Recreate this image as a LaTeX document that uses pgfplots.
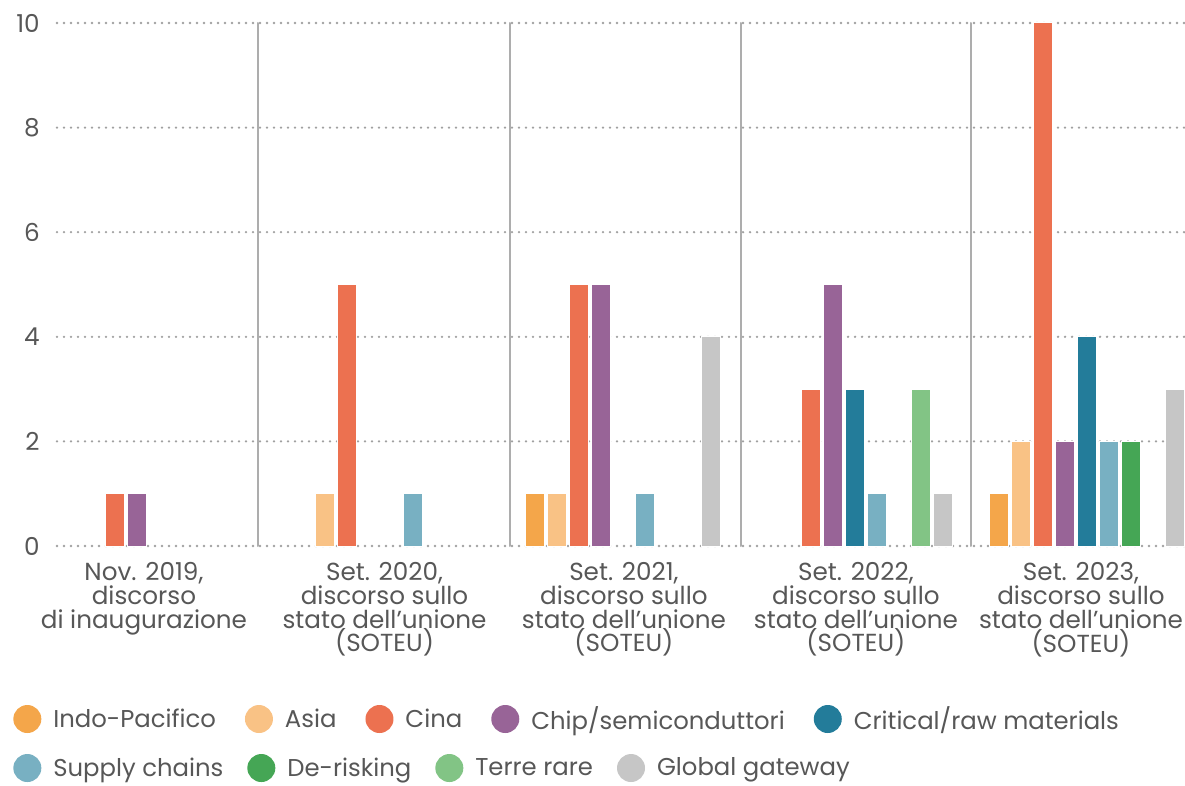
\documentclass[border=0pt]{standalone}
\usepackage{fontspec}
\setmainfont{Poppins}
\usepackage{pgfplots}
\pgfplotsset{compat=1.18}
\definecolor{cIndo}{HTML}{F4A64A}
\definecolor{cAsia}{HTML}{F9C285}
\definecolor{cCina}{HTML}{EC7150}
\definecolor{cChip}{HTML}{986497}
\definecolor{cCrit}{HTML}{237C9A}
\definecolor{cSupp}{HTML}{78B0C2}
\definecolor{cDeri}{HTML}{45A655}
\definecolor{cTerr}{HTML}{82C485}
\definecolor{cGlob}{HTML}{C6C6C6}
\definecolor{txt}{HTML}{575757}
\definecolor{gridc}{HTML}{A0A0A0}
\definecolor{sepc}{HTML}{ADADAD}
\newcommand{\lblfont}{\fontsize{14.8}{14.3}\selectfont}
\newcommand{\legfont}{\fontsize{14.6}{14.6}\selectfont}
\pgfplotsset{
  circlegend/.style={
    legend image code/.code={\fill[##1, draw=none] (0pt,0pt) circle (8.4pt);},
    legend columns=-1,
    legend cell align=left,
    legend style={anchor=west, draw=none, fill=none, inner sep=0pt,
      font=\legfont, text=txt, nodes={inner sep=0pt},
      /tikz/every odd column/.append style={column sep=7.2pt}},
  },
  base/.style={
    at={(0,0)}, anchor=south west, scale only axis,
    width=676.8pt, height=313.8pt,
    xmin=-0.4397, xmax=4.4224, ymin=0, ymax=10, clip=false,
  },
  mybar/.style={ybar, bar width=0.0802, draw=white, line width=0.6pt, forget plot},
}
\begin{document}
\begin{tikzpicture}
\path[use as bounding box] (-34.2pt,-143.4pt) rectangle (676.8pt,327.6pt);
\begin{axis}[
  base, circlegend,
  axis line style={draw=none},
  major tick length=0pt,
  ytick={0,2,4,6,8,10},
  ymajorgrids,
  major grid style={dash pattern=on 0pt off 4.2pt, line cap=round, line width=1.55pt, color=gridc},
  xtick={-0.065,0.972,2.004,3.004,3.974},
  xticklabels={{Nov. 2019,\\discorso\\di inaugurazione},
    {Set. 2020,\\discorso sullo\\stato dell'unione\\(SOTEU)},
    {Set. 2021,\\discorso sullo\\stato dell'unione\\(SOTEU)},
    {Set. 2022,\\discorso sullo\\stato dell'unione\\(SOTEU)},
    {Set. 2023,\\discorso sullo\\stato dell'unione\\(SOTEU)}},
  xticklabel style={align=center, anchor=north, inner sep=0pt, yshift=-9.6pt, font=\lblfont, text=txt},
  yticklabel style={anchor=east, inner sep=0pt, xshift=-10.2pt, font=\lblfont, text=txt},
  /pgf/number format/assume math mode=true,
  extra x ticks={0.4267,1.5129,2.5086,3.5},
  extra x tick labels={},
  extra x tick style={xmajorgrids=true, major grid style={solid, draw=sepc, line width=1.2pt}},
  legend style={at={(-0.0390,-0.3308)},
    /tikz/every even column/.append style={column sep=17.4pt}},
]
\addplot[mybar, bar shift=-0.3793, fill=cIndo] coordinates {(2,1) (4,1)};
\addplot[mybar, bar shift=-0.2845, fill=cAsia] coordinates {(1,1) (2,1) (4,2)};
\addplot[mybar, bar shift=-0.1897, fill=cCina] coordinates {(0,1) (1,5) (2,5) (3,3) (4,10)};
\addplot[mybar, bar shift=-0.0948, fill=cChip] coordinates {(0,1) (2,5) (3,5) (4,2)};
\addplot[mybar, bar shift=0, fill=cCrit] coordinates {(3,3) (4,4)};
\addplot[mybar, bar shift=0.0948, fill=cSupp] coordinates {(1,1) (2,1) (3,1) (4,2)};
\addplot[mybar, bar shift=0.1897, fill=cDeri] coordinates {(4,2)};
\addplot[mybar, bar shift=0.2845, fill=cTerr] coordinates {(3,3)};
\addplot[mybar, bar shift=0.3793, fill=cGlob] coordinates {(2,4) (3,1) (4,3)};
\addlegendimage{fill=cIndo}\addlegendentry{Indo-Pacifico}
\addlegendimage{fill=cAsia}\addlegendentry{Asia}
\addlegendimage{fill=cCina}\addlegendentry{Cina}
\addlegendimage{fill=cChip}\addlegendentry{Chip/semiconduttori}
\addlegendimage{fill=cCrit}\addlegendentry{Critical/raw materials}
\end{axis}
\begin{axis}[
  base, circlegend, hide axis,
  legend style={at={(-0.0390,-0.4245)},
    /tikz/every even column/.append style={column sep=14.4pt}},
]
\addlegendimage{fill=cSupp}\addlegendentry{Supply chains}
\addlegendimage{fill=cDeri}\addlegendentry{De-risking}
\addlegendimage{fill=cTerr}\addlegendentry{Terre rare}
\addlegendimage{fill=cGlob}\addlegendentry{Global gateway}
\end{axis}
\end{tikzpicture}
\end{document}
